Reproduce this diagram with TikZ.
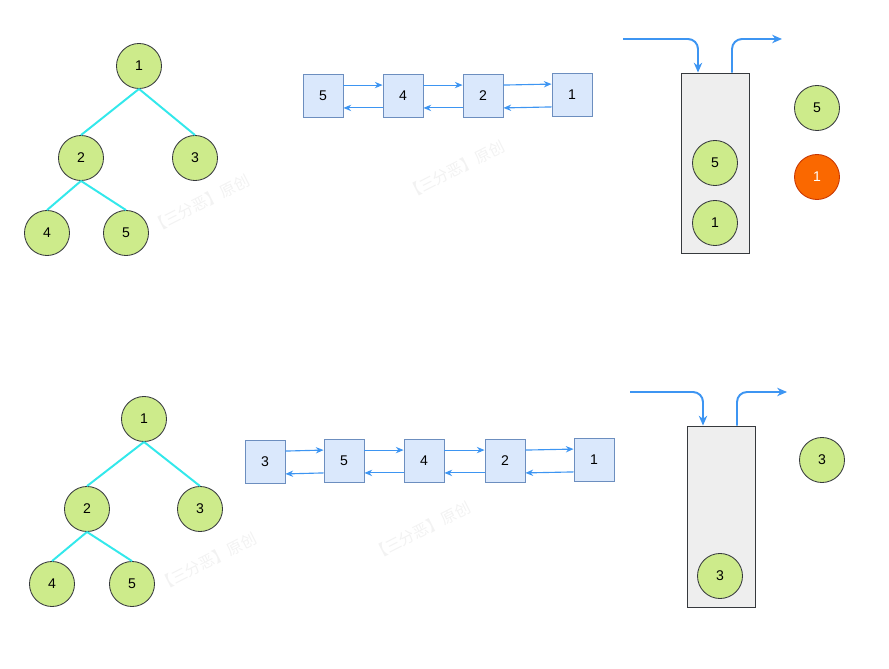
\documentclass[tikz,border=0pt]{standalone}
\usepackage{fontspec}
\setmainfont{Liberation Sans}
\newfontfamily\cjk{Noto Sans CJK SC}
\usepackage{tikz}
\usetikzlibrary{arrows.meta}
\usepackage{xcolor}
\definecolor{nodegreen}{HTML}{CDEB8B}
\definecolor{nodeline}{HTML}{36393D}
\definecolor{boxblue}{HTML}{DAE8FC}
\definecolor{boxline}{HTML}{6C8EBF}
\definecolor{treeline}{HTML}{33E8EB}
\definecolor{flowblue}{HTML}{3D95F2}
\definecolor{popfill}{HTML}{FA6800}
\definecolor{popline}{HTML}{C73500}
\definecolor{stackfill}{HTML}{EEEEEE}
\tikzset{
  tnode/.style={circle,draw=nodeline,fill=nodegreen,line width=0.6pt,minimum size=1.125cm,inner sep=0pt,font=\fontsize{10}{11}\selectfont},
  popped/.style={tnode,draw=popline,fill=popfill,text=white},
  treeedge/.style={treeline,line width=1.4pt},
  lbox/.style={rectangle,draw=boxline,fill=boxblue,line width=0.6pt,minimum width=1cm,minimum height=1.075cm,inner sep=0pt,font=\fontsize{10}{11}\selectfont},
  link/.style={-{Stealth[length=5.5pt,width=4.5pt]},flowblue,line width=0.8pt},
  flow/.style={-{Stealth[length=7pt,width=6pt]},flowblue,line width=1.4pt,rounded corners=0.25cm},
  stackbox/.style={rectangle,draw=nodeline,fill=stackfill,line width=0.6pt,minimum width=1.7cm,inner sep=0pt},
  wmark/.style={text=black!5,rotate=27,font=\cjk\fontsize{11}{11}\selectfont}
}
\begin{document}
\begin{tikzpicture}[x=0.025cm,y=-0.025cm]
  \useasboundingbox (0,0) rectangle (889,669);
  % 水印
  \node[wmark] (wm1) at (200,204) {【三分恶】原创};
  \node[wmark] (wm2) at (455,170) {【三分恶】原创};
  \node[wmark] (wm3) at (207,562) {【三分恶】原创};
  \node[wmark] (wm4) at (421,531) {【三分恶】原创};

  % 上：二叉树
  \node[tnode] (ta1) at (139,66) {1};
  \node[tnode] (ta2) at (81,158) {2};
  \node[tnode] (ta3) at (195,158) {3};
  \node[tnode] (ta4) at (47,233) {4};
  \node[tnode] (ta5) at (126,233) {5};
  \draw[treeedge] (ta1.south) -- (ta2.north);
  \draw[treeedge] (ta1.south) -- (ta3.north);
  \draw[treeedge] (ta2.south) -- (ta4.north);
  \draw[treeedge] (ta2.south) -- (ta5.north);

  % 上：双向链表 5 <-> 4 <-> 2 <-> 1
  \node[lbox] (la5) at (323,96) {5};
  \node[lbox] (la4) at (403,96) {4};
  \node[lbox] (la2) at (483,96) {2};
  \node[lbox] (la1) at (572,95) {1};
  \draw[link] ([yshift=-0.275cm]la5.north east) -- ([yshift=-0.275cm]la4.north west);
  \draw[link] ([yshift=-0.275cm]la4.north east) -- ([yshift=-0.275cm]la2.north west);
  \draw[link] ([yshift=-0.275cm]la2.north east) -- ([yshift=-0.275cm]la1.north west);
  \draw[link] ([yshift=0.25cm]la4.south west) -- ([yshift=0.25cm]la5.south east);
  \draw[link] ([yshift=0.25cm]la2.south west) -- ([yshift=0.25cm]la4.south east);
  \draw[link] ([yshift=0.25cm]la1.south west) -- ([yshift=0.25cm]la2.south east);

  % 上：栈
  \node[stackbox,minimum height=4.5cm] (sa) at (715,163) {};
  \node[tnode] (sa5) at (715,163) {5};
  \node[tnode] (sa1) at (715,223) {1};
  \coordinate (ina) at (623,39);
  \coordinate (outa) at (782,39);
  \draw[flow] (ina) -| ([xshift=-0.425cm]sa.north);
  \draw[flow] ([xshift=0.425cm]sa.north) |- (outa);
  \node[tnode] (ra5) at (817,108) {5};
  \node[popped] (ra1) at (817,177) {1};

  % 下：二叉树
  \node[tnode] (tb1) at (144,419) {1};
  \node[tnode] (tb2) at (87,509) {2};
  \node[tnode] (tb3) at (200,509) {3};
  \node[tnode] (tb4) at (52,584) {4};
  \node[tnode] (tb5) at (132,584) {5};
  \draw[treeedge] (tb1.south) -- (tb2.north);
  \draw[treeedge] (tb1.south) -- (tb3.north);
  \draw[treeedge] (tb2.south) -- (tb4.north);
  \draw[treeedge] (tb2.south) -- (tb5.north);

  % 下：双向链表 3 <-> 5 <-> 4 <-> 2 <-> 1
  \node[lbox] (lb3) at (265,462) {3};
  \node[lbox] (lb5) at (344,461) {5};
  \node[lbox] (lb4) at (424,461) {4};
  \node[lbox] (lb2) at (505,461) {2};
  \node[lbox] (lb1) at (594,460) {1};
  \draw[link] ([yshift=-0.275cm]lb3.north east) -- ([yshift=-0.275cm]lb5.north west);
  \draw[link] ([yshift=-0.275cm]lb5.north east) -- ([yshift=-0.275cm]lb4.north west);
  \draw[link] ([yshift=-0.275cm]lb4.north east) -- ([yshift=-0.275cm]lb2.north west);
  \draw[link] ([yshift=-0.275cm]lb2.north east) -- ([yshift=-0.275cm]lb1.north west);
  \draw[link] ([yshift=0.25cm]lb5.south west) -- ([yshift=0.25cm]lb3.south east);
  \draw[link] ([yshift=0.25cm]lb4.south west) -- ([yshift=0.25cm]lb5.south east);
  \draw[link] ([yshift=0.25cm]lb2.south west) -- ([yshift=0.25cm]lb4.south east);
  \draw[link] ([yshift=0.25cm]lb1.south west) -- ([yshift=0.25cm]lb2.south east);

  % 下：栈
  \node[stackbox,minimum height=4.525cm] (sb) at (721,516.5) {};
  \node[tnode] (sb3) at (720,576) {3};
  \coordinate (inb) at (630,392);
  \coordinate (outb) at (787,392);
  \draw[flow] (inb) -| ([xshift=-0.45cm]sb.north);
  \draw[flow] ([xshift=0.4cm]sb.north) |- (outb);
  \node[tnode] (rb3) at (822,460) {3};
\end{tikzpicture}
\end{document}
